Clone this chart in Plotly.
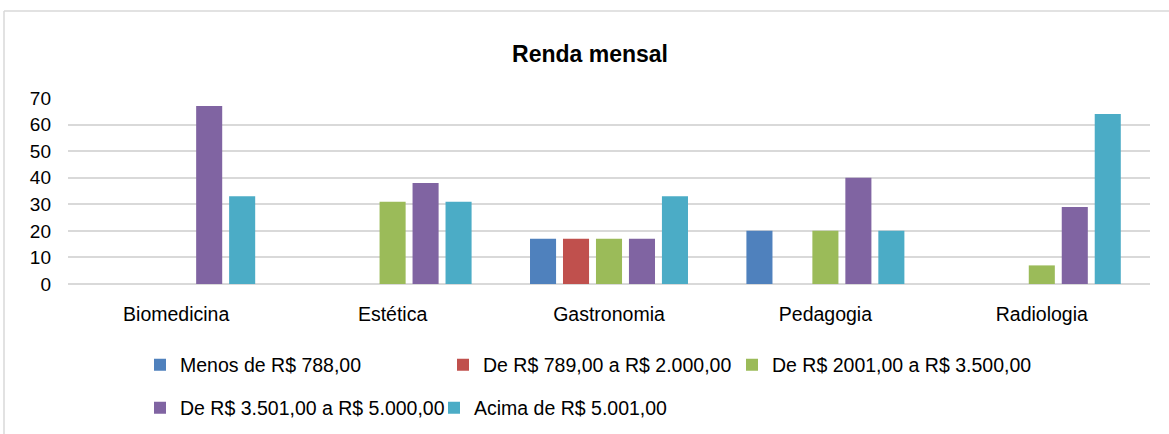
import plotly.graph_objects as go

categories = ["Biomedicina", "Estética", "Gastronomia", "Pedagogia", "Radiologia"]
series_names = [
    "Menos de R$ 788,00",
    "De R$ 789,00 a R$ 2.000,00",
    "De R$ 2001,00 a R$ 3.500,00",
    "De R$ 3.501,00 a R$ 5.000,00",
    "Acima de R$ 5.001,00",
]
menos_788 = [None, None, 17, 20, None]
de_789_2000 = [None, None, 17, None, None]
de_2001_3500 = [None, 31, 17, 20, 7]
de_3501_5000 = [67, 38, 17, 40, 29]
acima_5001 = [33, 31, 33, 20, 64]
y_ticks = [0, 10, 20, 30, 40, 50, 60, 70]

values = [menos_788, de_789_2000, de_2001_3500, de_3501_5000, acima_5001]
colors = ["#4F81BD", "#C0504D", "#9BBB59", "#8064A2", "#4BACC6"]
legend_ids = ["legend", "legend2", "legend3", "legend4", "legend5"]
# legend text start (px) and row centre (px)
legend_text_x = [180, 483, 772, 180, 474]
legend_row_y = [365, 365, 365, 408, 408]

FONT = "Liberation Sans, Arial, sans-serif"

fig = go.Figure()
for name, vals, col, lg in zip(series_names, values, colors, legend_ids):
    fig.add_trace(go.Bar(
        x=categories, y=vals, name=name, marker_color=col,
        marker_line_width=0, legend=lg,
    ))

W, H = 1169, 434
ml, mr, mt, mb = 68, 19, 98, 150
pw = W - ml - mr
ph = H - mt - mb

def px_x(x):
    return (x - ml) / pw

def px_y(y):
    return (H - mb - y) / ph

fig.update_layout(
    width=W, height=H,
    margin=dict(l=ml, r=mr, t=mt, b=mb, autoexpand=False),
    paper_bgcolor="white", plot_bgcolor="white",
    font=dict(family=FONT, size=19, color="#000000"),
    barmode="group", bargap=0.238, bargroupgap=0.21,
    title=dict(text="<b>Renda mensal</b>", font=dict(size=23, family=FONT, color="#000"),
               x=px_x(590), xref="paper", xanchor="center",
               y=1 - 54 / H, yref="container", yanchor="middle"),
    xaxis=dict(showgrid=False, showline=False, ticks="", ticklabelstandoff=16,
               tickfont=dict(size=19.5)),
    yaxis=dict(range=[0, 70], tickvals=y_ticks, showgrid=True, gridcolor="#d9d9d9",
               gridwidth=1.5, zeroline=True, zerolinecolor="#d9d9d9", zerolinewidth=1.5,
               showline=False, ticks="", ticklabelstandoff=16, tickfont=dict(size=19)),
    showlegend=True,
)

legend_layout = {}
for lg, tx, ry in zip(legend_ids, legend_text_x, legend_row_y):
    legend_layout[lg] = dict(orientation="h", x=px_x(tx - 40), xanchor="left",
                             y=px_y(ry), yanchor="middle", font=dict(size=19.5),
                             bgcolor="rgba(0,0,0,0)")
fig.update_layout(**legend_layout)

# chart area border (Excel-style)
fig.add_shape(type="line", xref="paper", yref="paper",
              x0=px_x(4), x1=px_x(1200), y0=px_y(11), y1=px_y(11),
              line=dict(color="#d9d9d9", width=1.5))
fig.add_shape(type="line", xref="paper", yref="paper",
              x0=px_x(4), x1=px_x(4), y0=px_y(11), y1=px_y(460),
              line=dict(color="#d9d9d9", width=1.5))

fig.write_html("out.html",
               config={"displayModeBar": False},
               post_script="document.body.style.margin='0';document.body.style.overflow='hidden';")
